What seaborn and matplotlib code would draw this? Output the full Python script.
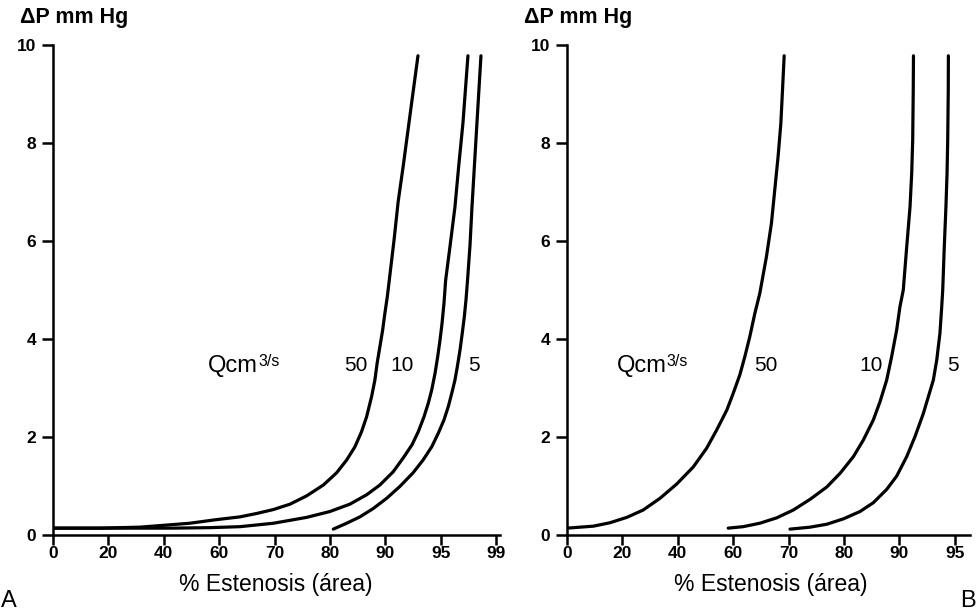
import numpy as np
import pandas as pd
import matplotlib
matplotlib.use("Agg")
import matplotlib.pyplot as plt
from matplotlib.ticker import NullLocator
import seaborn as sns

# ---------------- data ----------------
ticks_a = [0, 20, 40, 60, 70, 80, 90, 95, 99]
ticks_b = [0, 20, 40, 60, 70, 80, 90, 95]
yticks = [0, 2, 4, 6, 8, 10]

# Panel A  (% stenosis, pressure drop mm Hg)
sten_a_50 = [0, 17, 31.4, 49.4, 58.5, 63.75, 66.8, 69.8, 72.8, 75.8, 78.8, 81.2, 83.0,
             84.5, 85.7, 86.6, 87.5, 88.1, 88.5, 89.0, 89.5, 89.9, 90.17, 90.35,
             90.78, 91.15, 91.62, 92.28, 92.94]
dp_a_50 = [0.14, 0.14, 0.16, 0.24, 0.31, 0.37, 0.44, 0.52, 0.63, 0.80, 1.02, 1.27, 1.53,
           1.80, 2.11, 2.41, 2.82, 3.16, 3.50, 3.84, 4.18, 4.52, 4.86, 5.20,
           6.02, 6.80, 7.55, 8.67, 9.78]
sten_a_10 = [0, 17, 43, 56.7, 63.75, 69.8, 75.8, 80.0, 83.6, 86.6, 89.0, 90.7, 91.6,
             92.4, 92.97, 93.48, 93.87, 94.18, 94.48, 94.72, 94.93, 95.09, 95.23,
             95.35, 95.66, 96.02, 96.3, 96.6, 96.96]
dp_a_10 = [0.14, 0.14, 0.14, 0.15, 0.17, 0.24, 0.36, 0.48, 0.63, 0.82, 1.02, 1.29, 1.57,
           1.84, 2.11, 2.41, 2.69, 2.96, 3.30, 3.64, 3.98, 4.32, 4.73,
           5.20, 5.88, 6.69, 7.55, 8.41, 9.78]
sten_a_5 = [80.6, 83.0, 85.4, 87.8, 90.12, 91.3, 92.5, 93.4, 94.18, 94.78, 95.23, 95.54,
            95.79, 96.02, 96.19, 96.39, 96.55, 96.70, 96.82, 96.93, 97.11, 97.25,
            97.43, 97.61, 97.9]
dp_a_5 = [0.12, 0.24, 0.37, 0.54, 0.75, 0.99, 1.27, 1.53, 1.80, 2.08, 2.35, 2.62,
          2.89, 3.16, 3.43, 3.78, 4.12, 4.46, 4.80, 5.20, 5.92, 6.69,
          7.55, 8.41, 9.78]

# Panel B
sten_b_50 = [0, 9.5, 15.5, 21.6, 27.5, 33.6, 39.6, 45.6, 50.4, 54.0, 57.7, 60.0, 61.2,
             62.1, 63.0, 63.9, 64.8, 66.0, 66.9, 67.5, 68.1, 68.6, 68.9, 69.2]
dp_b_50 = [0.14, 0.18, 0.25, 0.36, 0.51, 0.75, 1.04, 1.39, 1.77, 2.14, 2.55, 2.89, 3.27,
           3.64, 4.05, 4.52, 4.93, 5.68, 6.36, 7.04, 7.72, 8.40, 9.08, 9.78]
sten_b_10 = [58.2, 61.8, 64.8, 67.85, 70.85, 73.9, 76.9, 79.3, 81.7, 83.5, 85.3, 86.5,
             87.7, 88.6, 89.5, 90.05, 90.35, 90.66, 90.96, 91.11, 91.2, 91.25, 91.27]
dp_b_10 = [0.14, 0.17, 0.24, 0.35, 0.51, 0.73, 0.98, 1.26, 1.60, 1.94, 2.35, 2.72,
           3.16, 3.64, 4.18, 4.66, 5.0, 5.88, 6.70, 7.38, 8.06, 9.08, 9.78]
sten_b_5 = [70.25, 73.9, 76.9, 79.9, 82.9, 85.3, 87.7, 89.5, 90.66, 91.41, 92.16, 92.61,
            93.06, 93.37, 93.66, 93.82, 93.91, 94.05, 94.2, 94.3, 94.36, 94.41, 94.42]
dp_b_5 = [0.12, 0.16, 0.22, 0.33, 0.48, 0.66, 0.93, 1.20, 1.60, 2.01, 2.48, 2.82,
          3.16, 3.57, 4.12, 4.66, 5.0, 5.88, 6.70, 7.38, 8.06, 9.08, 9.78]

flow_labels = ["50", "10", "5"]

# ---------------- style ----------------
sns.set_style("ticks")
plt.rcParams["font.family"] = ["Liberation Sans", "DejaVu Sans"]
plt.rcParams["text.color"] = "black"
plt.rcParams["xtick.color"] = "black"
plt.rcParams["ytick.color"] = "black"


def make_scale(ticks):
    t = np.asarray(ticks, float)
    idx = np.arange(len(t), dtype=float)

    def fwd(x):
        x = np.asarray(x, float)
        y = np.interp(x, t, idx)
        y = np.where(x > t[-1], idx[-1] + (x - t[-1]) / (t[-1] - t[-2]), y)
        y = np.where(x < t[0], (x - t[0]) / (t[1] - t[0]), y)
        return y

    def inv(y):
        y = np.asarray(y, float)
        x = np.interp(y, idx, t)
        x = np.where(y > idx[-1], t[-1] + (y - idx[-1]) * (t[-1] - t[-2]), x)
        x = np.where(y < idx[0], t[0] + y * (t[1] - t[0]), x)
        return x

    return fwd, inv


fig = plt.figure(figsize=(9.77, 6.13), dpi=100)
W, H = 977.0, 613.0

ax_a = fig.add_axes([53 / W, (H - 535) / H, 447 / W, 490 / H])
ax_b = fig.add_axes([567 / W, (H - 535) / H, 403 / W, 490 / H])

panels = [
    (ax_a, ticks_a, 447 / 55.4,
     [(sten_a_50, dp_a_50), (sten_a_10, dp_a_10), (sten_a_5, dp_a_5)]),
    (ax_b, ticks_b, 403 / 55.4,
     [(sten_b_50, dp_b_50), (sten_b_10, dp_b_10), (sten_b_5, dp_b_5)]),
]

for ax, ticks, span, curves in panels:
    fwd, inv = make_scale(ticks)
    ax.set_xscale("function", functions=(fwd, inv))
    rows = []
    for lab, (xs, ys) in zip(flow_labels, curves):
        for xv, yv in zip(xs, ys):
            rows.append({"Estenosis": xv, "dP": yv, "Q": lab})
    df = pd.DataFrame(rows)
    sns.lineplot(data=df, x="Estenosis", y="dP", hue="Q", units="Q",
                 estimator=None, palette={k: "black" for k in flow_labels},
                 linewidth=2.3, legend=False, ax=ax)
    ax.set_xlim(0, float(inv(span)))
    ax.set_ylim(0, 10)
    ax.set_xticks(ticks)
    ax.set_xticklabels([str(t) for t in ticks], fontweight="bold", fontsize=12.5)
    ax.xaxis.set_minor_locator(NullLocator())
    ax.set_yticks(yticks)
    ax.set_yticklabels([str(t) for t in yticks], fontweight="bold", fontsize=12.5)
    ax.set_xlabel("")
    ax.set_ylabel("")
    for s in ["top", "right"]:
        ax.spines[s].set_visible(False)
    for s in ["left", "bottom"]:
        ax.spines[s].set_linewidth(1.8)
        ax.spines[s].set_color("black")
    ax.tick_params(axis="x", length=7, width=1.8, pad=1, colors="black")
    ax.tick_params(axis="y", length=8, width=1.8, pad=4, colors="black")
    ax.set_facecolor("white")


def q_label(ax, x, y):
    ax.annotate("Qcm", (x, y), ha="left", va="center", fontsize=17)
    ax.annotate("3/s", (x, y), xytext=(36, 3), textcoords="offset points",
                ha="left", va="center", fontsize=11.5)


q_label(ax_a, 56, 3.45)
for lab, xv in zip(flow_labels, [84.7, 91.5, 97.4]):
    ax_a.text(xv, 3.45, lab, ha="center", va="center", fontsize=15)

q_label(ax_b, 18, 3.45)
for lab, xv in zip(flow_labels, [65.9, 84.9, 94.85]):
    ax_b.text(xv, 3.45, lab, ha="center", va="center", fontsize=15)

fig.text(20 / W, 1 - 17 / H, "ΔP mm Hg", ha="left", va="center",
         fontsize=15.5, fontweight="bold")
fig.text(524 / W, 1 - 17 / H, "ΔP mm Hg", ha="left", va="center",
         fontsize=15.5, fontweight="bold")
fig.text(276 / W, 1 - 585 / H, "% Estenosis (área)", ha="center", va="center",
         fontsize=16.5)
fig.text(771 / W, 1 - 585 / H, "% Estenosis (área)", ha="center", va="center",
         fontsize=16.5)
fig.text(1 / W, 1 - 601 / H, "A", ha="left", va="center", fontsize=17)
fig.text(976 / W, 1 - 601 / H, "B", ha="right", va="center", fontsize=17)

fig.savefig("out.png", dpi=100, facecolor="white")
